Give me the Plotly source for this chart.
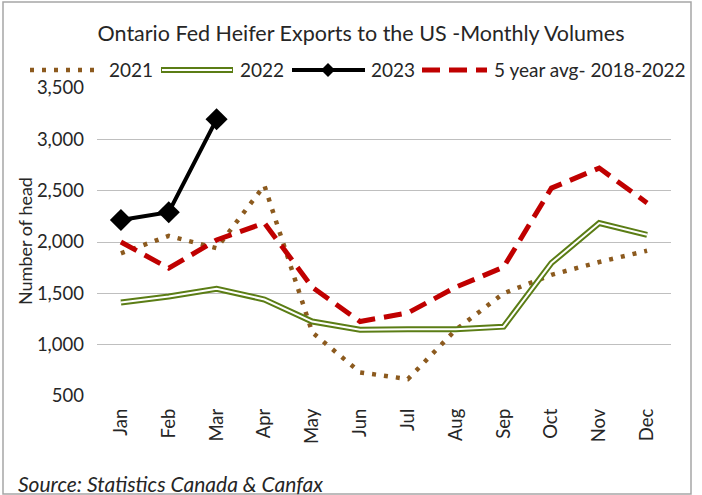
import plotly.graph_objects as go

months = ["Jan", "Feb", "Mar", "Apr", "May", "Jun", "Jul", "Aug", "Sep", "Oct", "Nov", "Dec"]
y2021 = [1890, 2060, 1940, 2550, 1120, 730, 665, 1145, 1500, 1680, 1805, 1915]
y2022 = [1410, 1470, 1545, 1440, 1225, 1146, 1150, 1150, 1175, 1795, 2185, 2070]
y2023 = [2215, 2290, 3195]
yavg = [2000, 1745, 2020, 2185, 1560, 1225, 1310, 1560, 1755, 2525, 2720, 2380]
legend_names = ["2021", "2022", "2023", "5 year avg- 2018-2022"]

L, R, T, B = 97, 31, 88, 99
W, H = 702, 495
pw, ph = W - L - R, H - T - B
def px(x):
    return (x - L) / pw
def py(y):
    return (H - B - y) / ph

BROWN, GREEN, RED = "#8C5A1E", "#5B7D15", "#C00000"
DOT = "4px,8px"
DASH = "18px,9px"
TXT = "#262626"
font = "Lato, Carlito, 'Liberation Sans', sans-serif"

fig = go.Figure()
fig.add_trace(go.Scatter(x=months, y=y2021, name=legend_names[0], mode="lines",
                         line=dict(color=BROWN, width=4.5, dash=DOT)))
fig.add_trace(go.Scatter(x=months, y=y2022, name=legend_names[1], mode="lines",
                         line=dict(color=GREEN, width=6)))
fig.add_trace(go.Scatter(x=months, y=y2022, name=legend_names[1], mode="lines",
                         hoverinfo="skip", line=dict(color="white", width=2)))
fig.add_trace(go.Scatter(x=months[:3], y=y2023, name=legend_names[2], mode="lines+markers",
                         line=dict(color="black", width=4),
                         marker=dict(symbol="diamond", size=17, color="black")))
fig.add_trace(go.Scatter(x=months, y=yavg, name=legend_names[3], mode="lines",
                         line=dict(color=RED, width=5, dash=DASH)))

# manual legend (symbol shapes + text) to match the reference's long symbols
LY = py(70)
shapes = [dict(type="rect", xref="paper", yref="paper", x0=px(3), x1=px(691),
               y0=py(494), y1=py(2), line=dict(color="#A6A6A6", width=1.5), layer="below")]
def seg(x0, x1, color, width, dash="solid"):
    return dict(type="line", xref="paper", yref="paper", x0=px(x0), x1=px(x1), y0=LY, y1=LY,
                line=dict(color=color, width=width, dash=dash))
shapes += [
    seg(30, 98, BROWN, 4.5, DOT),
    seg(161, 233, GREEN, 6), seg(162, 232, "white", 2),
    seg(292, 365, "black", 4),
    seg(422, 487, RED, 5, DASH),
    dict(type="path", xref="paper", yref="paper",
         path=f"M {px(328)},{LY + 7/ph} L {px(335)},{LY} L {px(328)},{LY - 7/ph} L {px(321)},{LY} Z",
         fillcolor="black", line=dict(color="black", width=0)),
]
leg_x = [107, 238, 369, 492]
annotations = [dict(text=n, xref="paper", yref="paper", x=px(x), y=LY, xanchor="left",
                    yanchor="middle", showarrow=False, font=dict(size=19, color=TXT))
               for n, x in zip(legend_names, leg_x)]
annotations += [
    dict(text="Number of head", xref="paper", yref="paper", x=px(25), y=py(241),
         textangle=-90, showarrow=False, xanchor="center", yanchor="middle",
         font=dict(size=18, color=TXT)),
    dict(text="<i>Source: Statistics Canada &amp; Canfax</i>", xref="paper", yref="paper",
         x=px(16), y=py(484), xanchor="left", yanchor="middle", showarrow=False,
         font=dict(size=21, color=TXT)),
]

fig.update_layout(
    width=W, height=H,
    margin=dict(l=L, r=R, t=T, b=B),
    paper_bgcolor="white", plot_bgcolor="white",
    font=dict(family=font, size=18.5, color=TXT),
    title=dict(text="Ontario Fed Heifer Exports to the US -Monthly Volumes",
               x=361 / W, xanchor="center", xref="container",
               y=1 - 33 / H, yanchor="middle", yref="container",
               font=dict(size=21.5, color=TXT)),
    showlegend=False,
    xaxis=dict(type="category", range=[-0.5, 11.5], tickangle=-90, showgrid=False,
               showline=False, ticks="", tickfont=dict(size=18.5), ticklabelstandoff=8),
    yaxis=dict(range=[500, 3500], dtick=500, tickformat=",", showgrid=True,
               gridcolor="#BFBFBF", gridwidth=1.3, zeroline=False, showline=False,
               ticks="", tickfont=dict(size=18.5), ticklabelstandoff=12),
    annotations=annotations,
    shapes=shapes,
)

fig.write_html("out.html", config={"displayModeBar": False},
               post_script="document.body.style.margin='0';")
